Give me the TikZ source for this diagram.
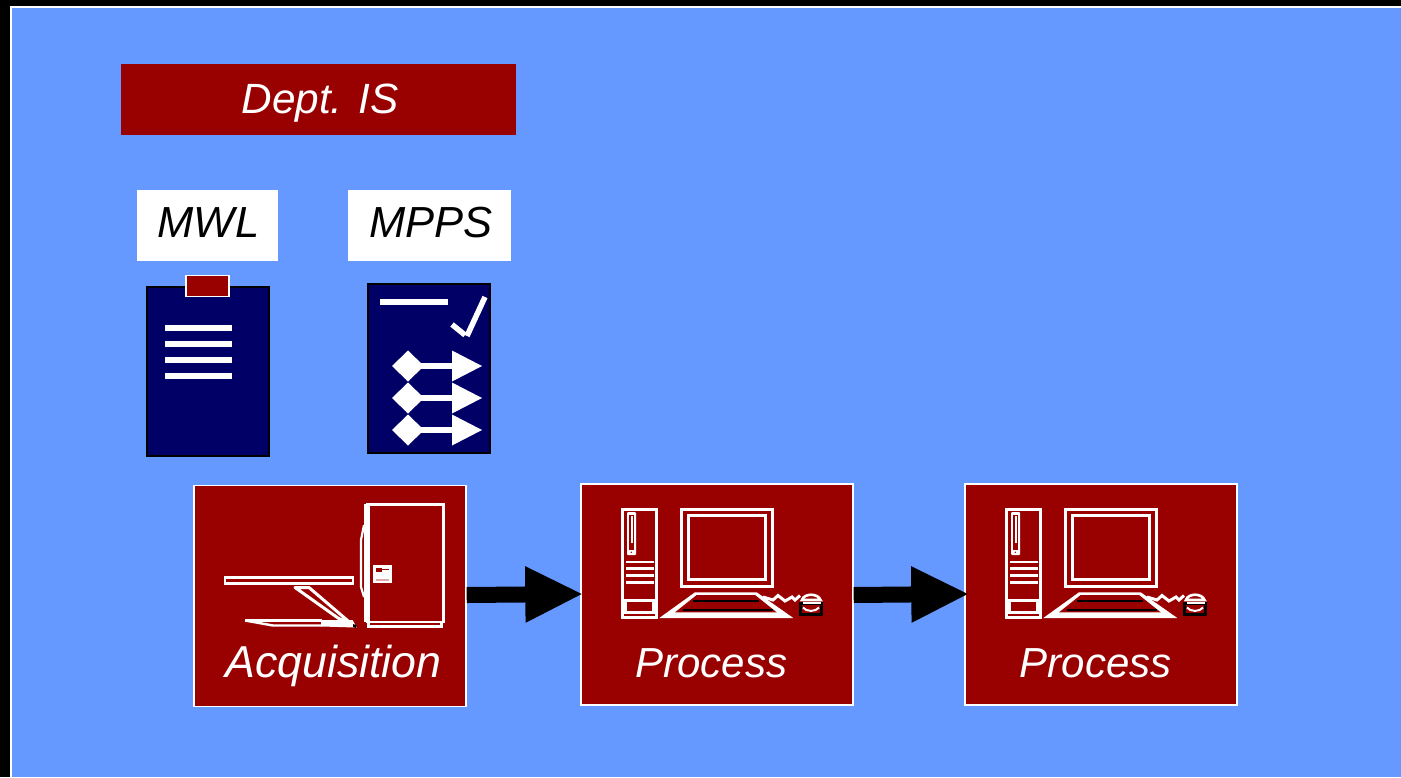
\documentclass[tikz,border=0pt]{standalone}
\usepackage{fontspec}
\setmainfont{Liberation Sans}
\usetikzlibrary{arrows.meta}
\definecolor{bgblue}{HTML}{6699FF}
\definecolor{boxred}{HTML}{990000}
\definecolor{docnavy}{HTML}{000066}
\definecolor{palered}{HTML}{E0A8A8}
\tikzset{
  x=1pt,y=-1pt,
  label font/.style={font=\fontsize{#1}{50}\selectfont\itshape},
  redbox/.style={draw=white,line width=1.4pt,fill=boxred,minimum width=272pt,minimum height=221pt,inner sep=0pt},
  boxtext/.style={text=white,inner sep=0pt,anchor=base},
  flowarrow/.style={line width=16pt,draw=black,-{Triangle[length=58pt,width=52pt]}},
  docpage/.style={draw=black,line width=2pt,fill=docnavy,inner sep=0pt,minimum width=122pt,minimum height=169pt},
  wl/.style={draw=white,line width=3pt,line join=miter},
  pics/computer/.style={code={
    % tower
    \draw[wl] (1,1) rectangle (35,109);
    \fill[white,rounded corners=1pt] (6,4) rectangle (15,47);
    \fill[boxred] (8,7) rectangle (13,41.5);
    \fill[white] (9.7,8) rectangle (11.5,35);
    \fill[boxred] (10.3,44.3) circle (.8pt);
    \foreach \ly in {54,60.5,67.5,74.5}{\draw[white,line width=2.6pt] (5,\ly) -- (32.5,\ly);}
    \draw[wl] (4,92.5) rectangle (32.5,104.5);
    % monitor
    \draw[wl] (60,1) rectangle (151,78);
    \draw[wl] (67,7.5) rectangle (144,71);
    % keyboard
    \fill[white] (38.3,110) -- (74,84.3) -- (135.7,84.3) -- (172.3,110) -- cycle;
    \fill[boxred] (54,104.3) -- (75.7,87) -- (134,87) -- (155.7,104.3) -- cycle;
    \draw[black,line width=2.6pt] (72,93) -- (138,93);
    \draw[black,line width=2.6pt] (62,102) -- (152,102);
    % cable
    \draw[white,line width=3pt] (142,89) -- (152,92) -- (157,87.5) -- (164,93) -- (171,89) -- (174,92) -- (179,87.5);
    % mouse
    \fill[boxred] (179,95) rectangle (201,107);
    \draw[black,line width=2.6pt] (179.5,95.5) rectangle (200.5,106.5);
    \draw[white,line width=2.6pt] (181,92) .. controls (183,85) and (197,85) .. (199.5,92) -- cycle;
    \draw[white,line width=2pt] (182,95) -- (199.5,95);
    \draw[white,line width=2pt] (182,99.5) .. controls (185,104) and (195,104) .. (198,99.5);
  }}
}
\begin{document}
\begin{tikzpicture}
\useasboundingbox (0,0) rectangle (1401,777);
\fill[black] (0,0) rectangle (1401,777);
\fill[white] (10,6) rectangle (1401,777);
\fill[bgblue] (12,8) rectangle (1401,777);

% titles
\node[fill=boxred,inner sep=0pt,minimum width=395pt,minimum height=71pt] (dept) at (318.5,99.5) {};
\node[text=white,label font=42.3,inner sep=0pt,anchor=base] (depttext) at (320,113) {Dept. IS};
\node[fill=white,minimum width=141pt,minimum height=71pt,inner sep=0pt] (mwl) at (207.5,225.5) {};
\node[text=black,label font=43.5,inner sep=0pt,anchor=base] (mwltext) at (208.5,237) {MWL};
\node[fill=white,minimum width=163pt,minimum height=71pt,inner sep=0pt] (mpps) at (429.5,225.5) {};
\node[text=black,label font=43.5,inner sep=0pt,anchor=base] (mppstext) at (431,237) {MPPS};

% MWL clipboard
\node[docpage] (mwldoc) at (208,371.5) {};
\node[draw=white,line width=1.6pt,fill=boxred,inner sep=0pt,minimum width=43pt,minimum height=21pt] (clip) at (207.7,286) {};
\foreach \ly in {328,344,360,376}{\draw[white,line width=6pt] (165,\ly) -- (232,\ly);}

% MPPS sheet
\node[docpage] (mppsdoc) at (429,368.5) {};
\draw[white,line width=6pt] (380,302) -- (448,302);
\draw[white,line width=5.5pt] (452,324.5) -- (465,335);
\draw[white,line width=5.5pt] (467,336) -- (485,297);
\foreach \cy in {366,398,430}{
  \fill[white] (392,\cy) -- (408,\cy-15.5) -- (424,\cy) -- (408,\cy+15.5) -- cycle;
  \fill[white] (420,\cy-3) rectangle (453,\cy+3);
  \fill[white] (452,\cy-15.5) -- (482,\cy) -- (452,\cy+15.5) -- cycle;
}

% process boxes
\node[redbox] (acq) at (330,596) {};
\node[redbox] (proc1) at (717,594.5) {};
\node[redbox] (proc2) at (1101,594.5) {};

% acquisition device
\draw[white,line width=2.6pt] (225,577.5) rectangle (353,583.5);
\draw[white,line width=3pt,line join=round] (295,587.5) -- (309,587.5) -- (354,626) -- (338,618) -- cycle;
\draw[white,line width=2pt,fill=white] (322,621) -- (352,621) -- (355,626.5) -- (322,625.5) -- cycle;
\draw[white,line width=2.4pt] (245,620.5) -- (322,620.5);
\draw[white,line width=2.4pt] (245,620.5) -- (273,625.5) -- (322,625.5);
\fill[black] (353,624) -- (356,625) -- (356,628) -- (353,627) -- cycle;
\draw[white,line width=2.8pt] (367,504.5) rectangle (443.5,622);
\fill[white] (364,504) rectangle (370,622);
\draw[white,line width=2.2pt] (364,525) -- (361,540) -- (361,587) -- (364,597);
\draw[white,line width=2.6pt] (368.5,622) rectangle (441.5,626.5);
\fill[white] (373,565) rectangle (392,583);
\fill[boxred] (376,567.5) rectangle (382,572);
\draw[boxred,line width=.8pt] (382,569.5) -- (389,569.5);
\draw[palered,line width=1.6pt] (376,580) -- (389,580);

% computers
\pic at (621,508) {computer};
\pic at (1005,508) {computer};

% box labels
\node[boxtext,label font=44.7] (acqtext) at (333.5,677) {Acquisition};
\node[boxtext,label font=42] (proc1text) at (711.5,677) {Process};
\node[boxtext,label font=42] (proc2text) at (1095.5,677) {Process};

% connectors
\draw[flowarrow,shorten >=-3pt] ([yshift=1pt]acq.east) -- ([yshift=.5pt]proc1.west);
\draw[flowarrow,shorten >=-5pt] ([yshift=-.5pt]proc1.east) -- ([yshift=.5pt]proc2.west);
\end{tikzpicture}
\end{document}
